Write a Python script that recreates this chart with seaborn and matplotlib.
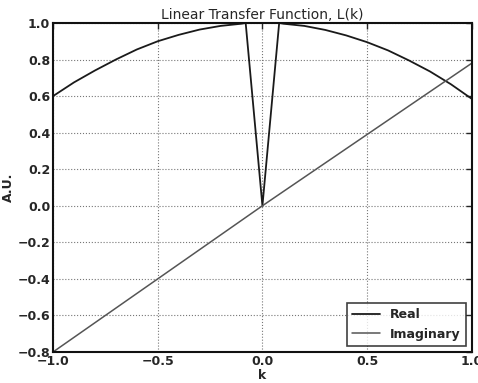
import matplotlib
matplotlib.use("Agg")
import matplotlib.pyplot as plt
import seaborn as sns
import pandas as pd

# Data
k_real = [-1.0, -0.9, -0.8, -0.7, -0.6, -0.5, -0.4, -0.3, -0.2, -0.1, -0.08,
          0.0, 0.08, 0.1, 0.2, 0.3, 0.4, 0.5, 0.6, 0.7, 0.8, 0.9, 1.0]
real_vals = [0.60, 0.675, 0.74, 0.80, 0.855, 0.90, 0.935, 0.964, 0.984, 0.996, 1.0,
             0.0, 1.0, 0.996, 0.984, 0.962, 0.932, 0.895, 0.85, 0.795, 0.735, 0.665, 0.585]
k_imag = [-1.0, -0.5, 0.0, 0.5, 1.0]
imag_vals = [-0.80, -0.40, 0.0, 0.39, 0.78]

x_ticks = [-1.0, -0.5, 0.0, 0.5, 1.0]
y_ticks = [-0.8, -0.6, -0.4, -0.2, 0.0, 0.2, 0.4, 0.6, 0.8, 1.0]

sns.set_style("white")
plt.rcParams['font.family'] = ['DejaVu Sans']

df_real = pd.DataFrame({"k": k_real, "v": real_vals})
df_imag = pd.DataFrame({"k": k_imag, "v": imag_vals})

fig = plt.figure(figsize=(4.78, 3.83), dpi=100)
ax = fig.add_axes([0.111, 0.081, 0.876, 0.859])

sns.lineplot(data=df_real, x="k", y="v", ax=ax, color="#1a1a1a", lw=1.3,
             label="Real", sort=False, estimator=None)
sns.lineplot(data=df_imag, x="k", y="v", ax=ax, color="#555555", lw=1.1,
             label="Imaginary", sort=False, estimator=None)

ax.set_xlim(-1.0, 1.0)
ax.set_ylim(-0.8, 1.0)
ax.set_xticks(x_ticks)
ax.set_yticks(y_ticks)
ax.set_xticklabels([f"{t:.1f}".replace("-", "\u2212") for t in x_ticks],
                   fontsize=9, fontweight="bold")
ax.set_yticklabels([f"{t:.1f}".replace("-", "\u2212") for t in y_ticks],
                   fontsize=9, fontweight="bold")
ax.tick_params(direction="in", length=4, width=1, top=True, right=True, pad=2)
ax.grid(True, color="#777777", linestyle=":", linewidth=0.8)
for s in ax.spines.values():
    s.set_linewidth(1.5)
    s.set_color("#111111")

ax.set_title("Linear Transfer Function, L(k)", fontsize=10, pad=3)
ax.set_xlabel("k", fontsize=9, fontweight="bold", labelpad=1)
ax.set_ylabel("A.U.", fontsize=9, fontweight="bold", labelpad=2)

leg = ax.legend(loc="lower right", fontsize=9, frameon=True, fancybox=False,
                edgecolor="#111111", handlelength=2.2, borderaxespad=0.5)
leg.get_frame().set_linewidth(1.2)
for t in leg.get_texts():
    t.set_fontweight("bold")

fig.savefig("out.png", dpi=100)
